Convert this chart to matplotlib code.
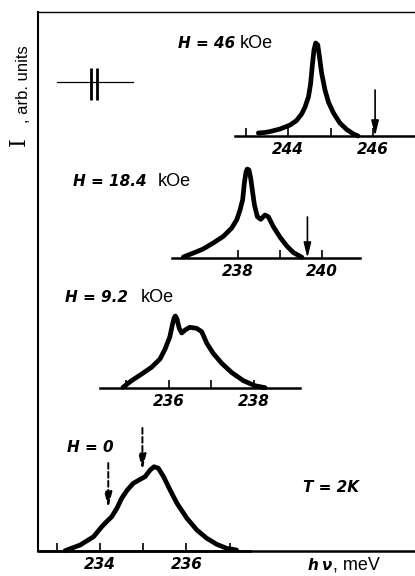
import matplotlib
matplotlib.use("Agg")
import matplotlib.pyplot as plt
from matplotlib.text import Annotation

# ---------------- data (photon energy in meV, intensity in arb. units) -------------
e46 = [243.30, 243.45, 243.58, 243.81, 244.05, 244.20, 244.32, 244.40, 244.48, 244.53,
       244.57, 244.61, 244.65, 244.70, 244.74, 244.79, 244.87, 244.95, 245.07, 245.22,
       245.38, 245.54, 245.65]
i46 = [3, 3.5, 4.5, 7, 11, 15.5, 22, 29, 39, 52,
       70, 86, 93, 91, 79, 63, 46, 34, 23, 13,
       6.5, 2, 0]

e184 = [236.70, 236.94, 237.17, 237.41, 237.65, 237.85, 237.97, 238.05, 238.11, 238.15,
        238.19, 238.22, 238.26, 238.30, 238.34, 238.39, 238.46, 238.54, 238.64, 238.72,
        238.84, 239.00, 239.16, 239.32, 239.52]
i184 = [1, 5, 9, 15, 21.6, 30, 38.3, 48.3, 58.3, 75,
        86, 89, 88, 80, 68, 53, 41.3, 38.7, 43, 41.3,
        31.3, 20.7, 12, 5.3, 0.7]

e92 = [234.92, 235.12, 235.36, 235.59, 235.79, 235.91, 236.02, 236.08, 236.12, 236.15,
       236.19, 236.24, 236.30, 236.38, 236.49, 236.65, 236.77, 236.89, 237.04, 237.24,
       237.48, 237.75, 238.02, 238.26]
i92 = [0.7, 7.3, 14, 20.7, 29, 39, 51, 63, 70, 72,
       69, 60, 55, 58, 60.7, 59.7, 56.3, 44.7, 34.7, 24.7,
       15.3, 7.3, 2.3, 0.3]

e0 = [233.19, 233.54, 233.85, 234.04, 234.15, 234.27, 234.39, 234.50, 234.63, 234.77,
      234.93, 235.04, 235.16, 235.25, 235.35, 235.47, 235.62, 235.78, 236.01, 236.24,
      236.47, 236.70, 236.93, 237.16]
i0 = [0.3, 6, 14.3, 24.3, 29.3, 34.3, 42.7, 52.7, 61, 67.7,
      71.7, 74.3, 81, 84.3, 82.7, 74.3, 61, 47.7, 32.7, 21,
      12.7, 6.7, 2.7, 1]

field_labels = ["H = 46", "H = 18.4", "H = 9.2", "H = 0"]
ticks46, labels46 = [243, 244, 245, 246], ["", "244", "", "246"]
ticks184, labels184 = [238, 239, 240], ["238", "", "240"]
ticks92, labels92 = [235, 236, 237, 238], ["", "236", "", "238"]
ticks0, labels0 = [233, 234, 235, 236, 237], ["", "234", "", "236", ""]

# arrows: (energy, start height, end height)
arrow46 = (246.05, 46, 0)
arrow184 = (239.65, 41, 0)
arrows0 = [(234.19, 88, 43), (234.98, 123, 81)]

# ---------------- figure ----------------
W, H = 415, 576
fig = plt.figure(figsize=(W / 100, H / 100), dpi=100)
fig.patch.set_facecolor('white')

def fx(px):
    return px / W

def fy(py):
    return 1 - py / H

BOLD = dict(family='DejaVu Sans', weight='bold', style='italic')
REG = dict(family='Liberation Sans')

# main frame
main = fig.add_axes([fx(38), fy(551), 1 - fx(38), fy(12) - fy(551)])
main.set_xticks([]); main.set_yticks([])
main.spines['right'].set_visible(False)
main.spines['left'].set_linewidth(1.5)
main.spines['top'].set_linewidth(1.0)
main.spines['bottom'].set_linewidth(1.8)
main.patch.set_alpha(0)

# polarization symbol (E || c)
main.plot([0.0504, 0.2520], [0.8707, 0.8707], color='k', lw=0.9, transform=main.transAxes)
for xb in (0.1406, 0.1557):
    main.plot([xb, xb], [0.8367, 0.8955], color='k', lw=2.0, transform=main.transAxes,
              solid_capstyle='butt')

AX_H = 130

def spectrum(left, right, base, xlim, e, i, ticks, labels):
    ax = fig.add_axes([fx(left), fy(base), fx(right) - fx(left), AX_H / H])
    ax.patch.set_alpha(0)
    for s in ('left', 'right', 'top'):
        ax.spines[s].set_visible(False)
    ax.spines['bottom'].set_linewidth(1.8)
    ax.set_xlim(*xlim)
    ax.set_ylim(0, AX_H)
    ax.set_yticks([])
    ax.set_xticks(ticks)
    ax.set_xticklabels(labels)
    ax.tick_params(axis='x', direction='in', length=5.5, width=1.2, pad=4)
    for t in ax.get_xticklabels():
        t.set_fontfamily('DejaVu Sans'); t.set_fontweight('bold')
        t.set_fontstyle('italic'); t.set_fontsize(11)
    ax.plot(e, i, color='k', lw=3.4, solid_joinstyle='round', solid_capstyle='round',
            clip_on=False)
    return ax

ax46 = spectrum(235, 415, 136, (242.75, 246.99), e46, i46, ticks46, labels46)
ax184 = spectrum(172, 360, 258, (236.43, 240.90), e184, i184, ticks184, labels184)
ax92 = spectrum(100, 300, 388, (234.38, 239.08), e92, i92, ticks92, labels92)
ax0 = spectrum(40, 250, 551, (232.61, 237.47), e0, i0, ticks0, labels0)

solid_arrow = dict(arrowstyle='-|>,head_length=0.9,head_width=0.22', lw=1.2, color='k',
                   shrinkA=0, shrinkB=0, mutation_scale=10)
for ax, (xa, y0, y1) in ((ax46, arrow46), (ax184, arrow184)):
    ax.annotate('', xy=(xa, y1), xytext=(xa, y0), arrowprops=solid_arrow,
                annotation_clip=False)

dash_arrow = dict(arrowstyle='-|>,head_length=0.9,head_width=0.22', lw=1.4, color='k',
                  shrinkA=0, shrinkB=0, mutation_scale=10, linestyle=(0, (3, 1.6)))
for xa, y0, y1 in arrows0:
    ax0.annotate('', xy=(xa, y1), xytext=(xa, y0), arrowprops=dash_arrow,
                 annotation_clip=False)

# field labels
def label(px, py, bold_txt, gap_pt=None, reg_txt=None):
    t = fig.text(fx(px), fy(py), bold_txt, ha='left', va='center', fontsize=11, **BOLD)
    if reg_txt:
        fig.add_artist(Annotation(
            reg_txt, xy=(1, 0.5), xycoords=t, xytext=(gap_pt, 0),
            textcoords='offset points', ha='left', va='center', fontsize=13, **REG))
    return t

label(178, 43, field_labels[0], 3.0, "kOe")
label(73, 181, field_labels[1], 8.0, "kOe")
label(65, 297, field_labels[2], 9.5, "kOe")
label(67, 447, field_labels[3])
label(303, 487, "T = 2K")
label(308, 565, "h\u2009\u03bd", 0.5, ", meV")

# y label
fig.text(fx(24), fy(45), ", arb. units", rotation=90, ha='center', va='top',
         fontsize=12, **REG)
fig.text(fx(19), fy(142), "I", rotation=90, ha='center', va='center',
         fontsize=16, family='DejaVu Serif')

fig.savefig("out.png", dpi=100, facecolor='white')
